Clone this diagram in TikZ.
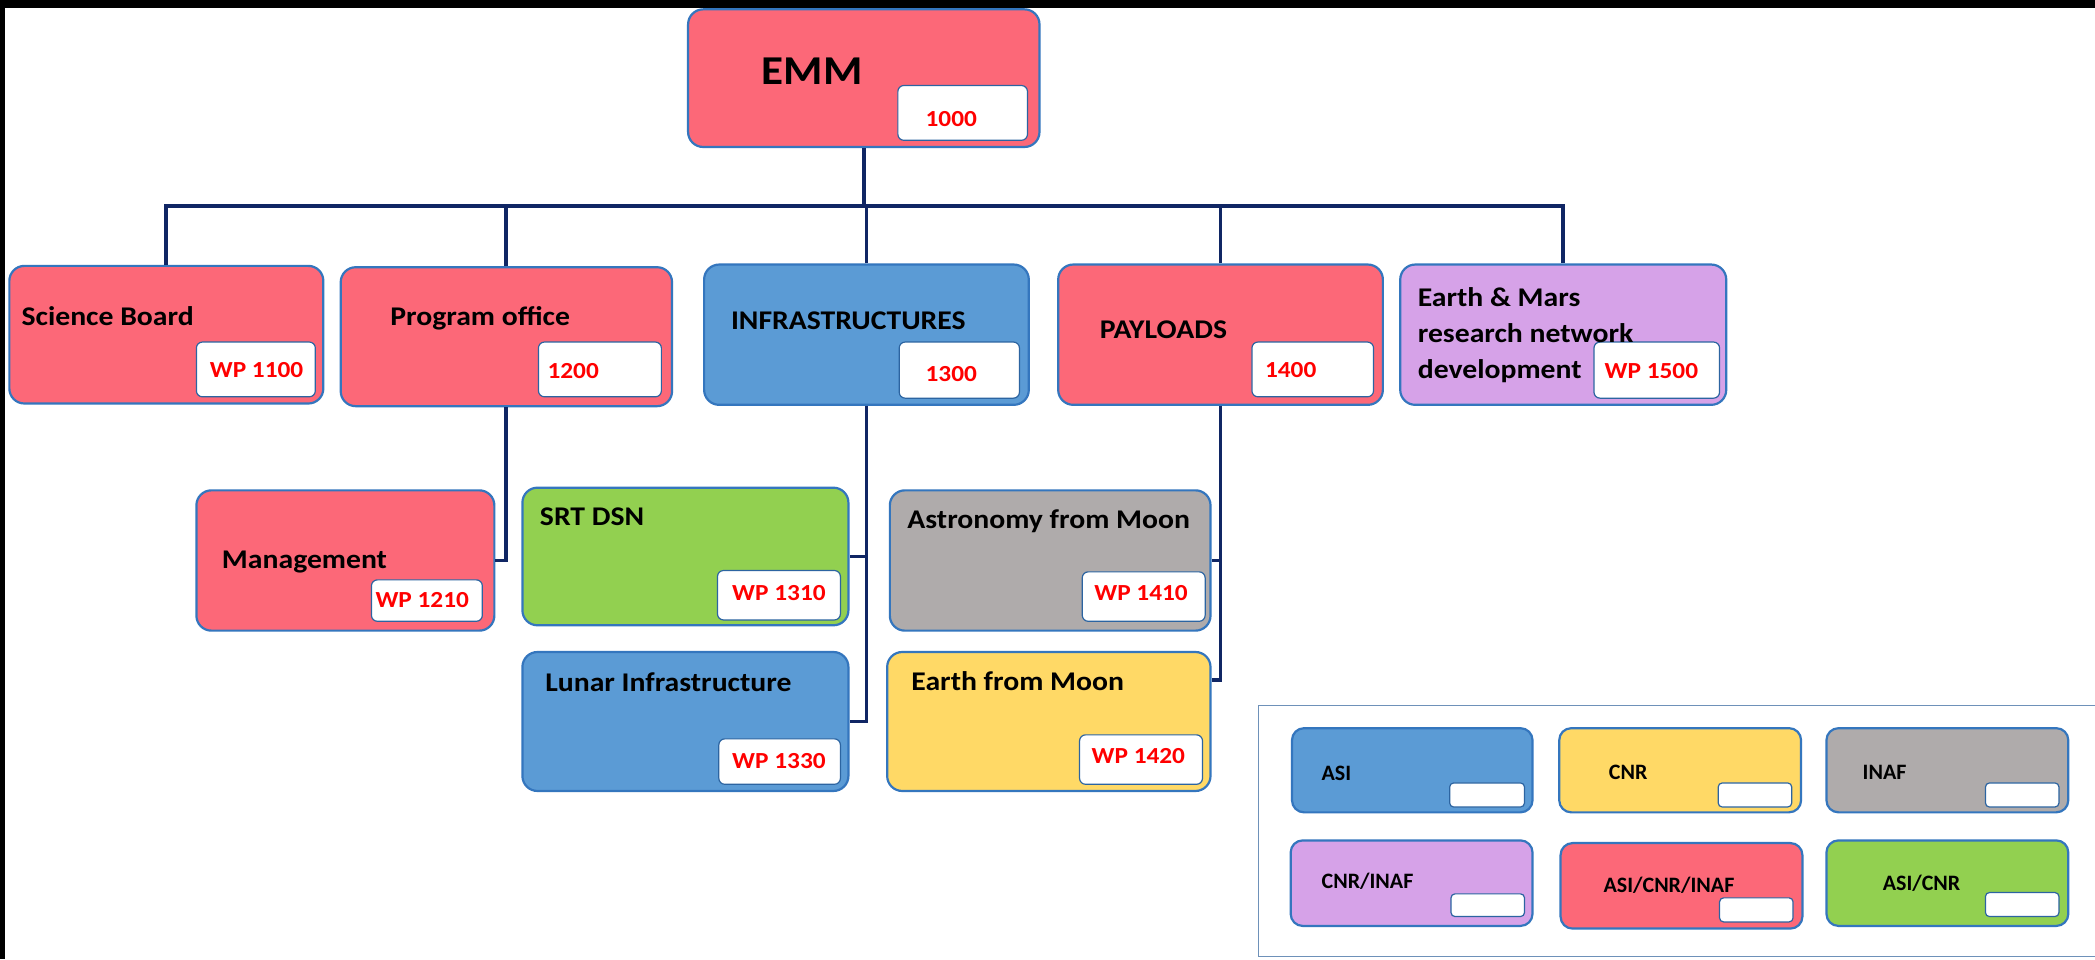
\documentclass[tikz,border=0pt]{standalone}
\usepackage{fontspec}
\setmainfont{Carlito}[FakeStretch=1.1]
\newfontfamily\legfont{Carlito}
\usetikzlibrary{fit}
\definecolor{cred}{RGB}{252,104,120}
\definecolor{cblue}{RGB}{91,155,213}
\definecolor{cgreen}{RGB}{146,208,80}
\definecolor{cgray}{RGB}{175,171,171}
\definecolor{cyellow}{RGB}{255,217,102}
\definecolor{clilac}{RGB}{214,162,232}
\definecolor{cborder}{RGB}{52,118,190}
\definecolor{cnavy}{RGB}{16,38,100}
\definecolor{cframe}{RGB}{110,145,185}
\begin{document}
\begin{tikzpicture}[x=1.336pt,y=-1.336pt,
  box/.style={draw=cborder, line width=2.2pt, rounded corners=15pt, inner sep=0pt},
  lbox/.style={draw=cborder, line width=2.2pt, rounded corners=12pt, inner sep=0pt},
  wbox/.style={draw=cborder!85!black, fill=white, line width=1.2pt, rounded corners=6pt, inner sep=0pt},
  conn/.style={draw=cnavy, line width=3.8pt},
  lab/.style={font=\bfseries\fontsize{27}{36}\selectfont, anchor=west, inner sep=0pt, text height=17.4pt, text depth=0pt},
  wp/.style={font=\bfseries\fontsize{23}{28}\selectfont, text=red, inner sep=0pt, text height=14.8pt, text depth=0pt},
  leg/.style={font=\legfont\bfseries\fontsize{22}{26}\selectfont, anchor=west, inner sep=0pt, text height=14.2pt, text depth=0pt}]
\useasboundingbox (0,0) rectangle (1568,718);
\fill[white] (0,0) rectangle (1568,718);
\fill[black] (0,0) rectangle (1568,6);
\fill[black] (0,0) rectangle (3.7,718);

% top node
\node[box, fill=cred, fit={(515,7)(778,110)}] (emm) {};
\node[wbox, fit={(672,64)(769,105)}] (emmw) {};
\node[font=\bfseries\fontsize{41}{48}\selectfont, inner sep=0pt, text height=26.4pt, text depth=0pt] (emmt) at (608,53) {EMM};
\node[wp] (emmn) at (712,89) {1000};

% level 1
\node[box, fill=cred, fit={(7,199)(242,302)}] (sb) {};
\node[wbox, fit={(147,256)(236,297)}] (sbw) {};
\node[lab] (sbt) at (16,237) {Science Board};
\node[wp] (sbn) at (192,277) {WP 1100};

\node[box, fill=cred, fit={(255,200)(503,304)}] (po) {};
\node[wbox, fit={(403,256)(495,297)}] (pow) {};
\node[lab] (pot) at (292,237) {Program office};
\node[wp] (pon) at (429,278) {1200};

\node[box, fill=cblue, fit={(527,198)(770,303)}] (inf) {};
\node[wbox, fit={(673,256)(763,298)}] (infw) {};
\node[lab] (inft) at (547,240) {INFRASTRUCTURES};
\node[wp] (infn) at (712,280) {1300};

\node[box, fill=cred, fit={(792,198)(1035,303)}] (pay) {};
\node[wbox, fit={(937,256)(1028,297)}] (payw) {};
\node[lab] (payt) at (823,247) {PAYLOADS};
\node[wp] (payn) at (966,277) {1400};

\node[box, fill=clilac, fit={(1048,198)(1292,303)}] (em) {};
\node[wbox, fit={(1193,256)(1287,298)}] (emw) {};
\node[lab, align=left] (emt) at (1061,277) {Earth \& Mars\\research network\\development};
\node[wp] (emn) at (1236,278) {WP 1500};

% level 2
\node[box, fill=cred, fit={(147,367)(370,472)}] (mg) {};
\node[wbox, fit={(278,434)(361,465)}] (mgw) {};
\node[lab] (mgt) at (166,419) {Management};
\node[wp] (mgn) at (316,449) {WP 1210};

\node[box, fill=cgreen, fit={(391,365)(635,468)}] (srt) {};
\node[wbox, fit={(537,427)(629,464)}] (srtw) {};
\node[lab] (srtt) at (404,387) {SRT DSN};
\node[wp] (srtn) at (583,444) {WP 1310};

\node[box, fill=cblue, fit={(391,488)(635,592)}] (lun) {};
\node[wbox, fit={(538,553)(629,587)}] (lunw) {};
\node[lab] (lunt) at (408,511) {Lunar Infrastructure};
\node[wp] (lunn) at (583,570) {WP 1330};

\node[box, fill=cgray, fit={(666,367)(906,472)}] (ast) {};
\node[wbox, fit={(810,428)(902,465)}] (astw) {};
\node[lab] (astt) at (679,389) {Astronomy from Moon};
\node[wp] (astn) at (854,444) {WP 1410};

\node[box, fill=cyellow, fit={(664,488)(906,592)}] (efm) {};
\node[wbox, fit={(808,550)(900,587)}] (efmw) {};
\node[lab] (efmt) at (682,510) {Earth from Moon};
\node[wp] (efmn) at (852,566) {WP 1420};

% connectors
\coordinate (bus) at (0,154);
\coordinate (efmy) at (0,509);
\draw[conn] (emm.south) -- (emm.south |- bus);
\draw[conn] (sb.north) -- (sb.north |- bus) -- (em.north |- bus) -- (em.north);
\draw[conn] (po.north) -- (po.north |- bus);
\draw[conn] (inf.north) -- (inf.north |- bus);
\draw[conn] (pay.north) -- (pay.north |- bus);
\draw[conn] (po.south) |- (mg.east);
\draw[conn] (inf.south) |- (srt.east);
\draw[conn] (inf.south) |- (lun.east);
\draw[conn] (pay.south) |- (ast.east);
\draw[conn] (pay.south) |- (efm.east |- efmy);

% legend
\node[draw=cframe, line width=1.6pt, fit={(942,528)(1570,716)}, inner sep=0pt] (legend) {};
\node[lbox, fill=cblue, fit={(967,545)(1147,608)}] (l1) {};
\node[wbox, rounded corners=4pt, fit={(1085,586)(1141,604)}] (l1w) {};
\node[leg] (l1t) at (989,579) {ASI};
\node[lbox, fill=cyellow, fit={(1167,545)(1348,608)}] (l2) {};
\node[wbox, rounded corners=4pt, fit={(1286,586)(1341,604)}] (l2w) {};
\node[leg] (l2t) at (1204,578) {CNR};
\node[lbox, fill=cgray, fit={(1367,545)(1548,608)}] (l3) {};
\node[wbox, rounded corners=4pt, fit={(1486,586)(1541,604)}] (l3w) {};
\node[leg] (l3t) at (1394,578) {INAF};
\node[lbox, fill=clilac, fit={(966,629)(1147,693)}] (l4) {};
\node[wbox, rounded corners=4pt, fit={(1086,669)(1141,686)}] (l4w) {};
\node[leg] (l4t) at (989,660) {CNR/INAF};
\node[lbox, fill=cred, fit={(1168,631)(1349,695)}] (l5) {};
\node[wbox, rounded corners=4pt, fit={(1287,672)(1342,690)}] (l5w) {};
\node[leg] (l5t) at (1200,663) {ASI/CNR/INAF};
\node[lbox, fill=cgreen, fit={(1367,629)(1548,693)}] (l6) {};
\node[wbox, rounded corners=4pt, fit={(1486,668)(1541,686)}] (l6w) {};
\node[leg] (l6t) at (1409,661) {ASI/CNR};
\end{tikzpicture}
\end{document}
